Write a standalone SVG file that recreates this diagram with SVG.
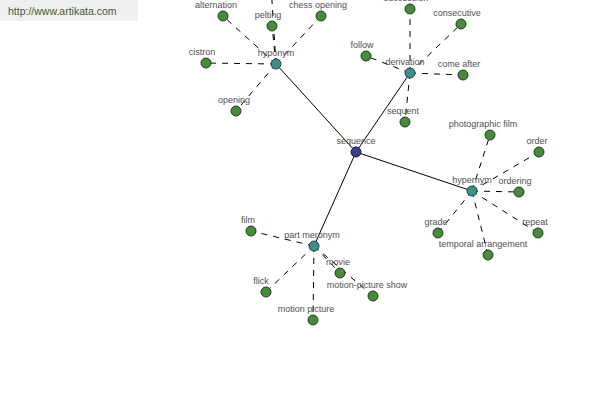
<svg xmlns="http://www.w3.org/2000/svg" width="600" height="400" viewBox="0 0 600 400">
<style>
.solid{stroke:#000;stroke-width:1;fill:none}
.dash{stroke:#000;stroke-width:1;stroke-dasharray:6,6;fill:none}
.leaf{fill:#4a8a3e;stroke:#1f3f1a;stroke-width:1}
.hub{fill:#3e8e8e;stroke:#1f4444;stroke-width:1}
.root{fill:#3c3c8e;stroke:#1a1a44;stroke-width:1}
text{font-family:"Liberation Sans",Arial,sans-serif;font-size:9px;fill:#505050;text-anchor:middle}
.hdr{font-size:10.5px;fill:#4a5a2e;text-anchor:start}
</style>
<rect width="600" height="400" fill="#fff"/>
<rect x="0" y="0" width="138" height="21" fill="#efefef"/>
<text class="hdr" x="8" y="15">http://www.artikata.com</text>
<g id="connectors">
<line class="solid" x1="356" y1="152" x2="276" y2="64"/>
<line class="solid" x1="356" y1="152" x2="410" y2="73"/>
<line class="solid" x1="356" y1="152" x2="472" y2="191"/>
<line class="solid" x1="356" y1="152" x2="314" y2="246"/>
<line class="dash" x1="276" y1="64" x2="223" y2="16"/>
<line class="dash" x1="276" y1="64" x2="272" y2="26"/>
<line class="dash" x1="276" y1="64" x2="321" y2="16"/>
<line class="dash" x1="276" y1="64" x2="206" y2="63"/>
<line class="dash" x1="276" y1="64" x2="236" y2="111"/>
<line class="dash" x1="276" y1="64" x2="270" y2="-30"/>
<line class="dash" x1="410" y1="73" x2="410" y2="9"/>
<line class="dash" x1="410" y1="73" x2="461" y2="24"/>
<line class="dash" x1="410" y1="73" x2="366" y2="56"/>
<line class="dash" x1="410" y1="73" x2="463" y2="75"/>
<line class="dash" x1="410" y1="73" x2="405" y2="122"/>
<line class="dash" x1="472" y1="191" x2="490" y2="135"/>
<line class="dash" x1="472" y1="191" x2="539" y2="152"/>
<line class="dash" x1="472" y1="191" x2="519" y2="192"/>
<line class="dash" x1="472" y1="191" x2="538" y2="233"/>
<line class="dash" x1="472" y1="191" x2="438" y2="233"/>
<line class="dash" x1="472" y1="191" x2="488" y2="255"/>
<line class="dash" x1="314" y1="246" x2="251" y2="231"/>
<line class="dash" x1="314" y1="246" x2="266" y2="292"/>
<line class="dash" x1="314" y1="246" x2="313" y2="320"/>
<line class="dash" x1="314" y1="246" x2="340" y2="273"/>
<line class="dash" x1="314" y1="246" x2="373" y2="296"/>
</g>
<g id="n-alternation"><circle class="leaf" cx="223" cy="16" r="5"/><text x="216" y="8">alternation</text></g>
<g id="n-pelting"><circle class="leaf" cx="272" cy="26" r="5"/><text x="268" y="18">pelting</text></g>
<g id="n-chess-opening"><circle class="leaf" cx="321" cy="16" r="5"/><text x="318" y="8">chess opening</text></g>
<g id="n-cistron"><circle class="leaf" cx="206" cy="63" r="5"/><text x="202" y="55">cistron</text></g>
<g id="n-opening"><circle class="leaf" cx="236" cy="111" r="5"/><text x="234" y="103">opening</text></g>
<g id="n-succession"><circle class="leaf" cx="410" cy="9" r="5"/><text x="406" y="1">succession</text></g>
<g id="n-consecutive"><circle class="leaf" cx="461" cy="24" r="5"/><text x="457" y="16">consecutive</text></g>
<g id="n-follow"><circle class="leaf" cx="366" cy="56" r="5"/><text x="362" y="48">follow</text></g>
<g id="n-come-after"><circle class="leaf" cx="463" cy="75" r="5"/><text x="459" y="67">come after</text></g>
<g id="n-sequent"><circle class="leaf" cx="405" cy="122" r="5"/><text x="403" y="114">sequent</text></g>
<g id="n-photographic-film"><circle class="leaf" cx="490" cy="135" r="5"/><text x="483" y="127">photographic film</text></g>
<g id="n-order"><circle class="leaf" cx="539" cy="152" r="5"/><text x="537" y="144">order</text></g>
<g id="n-ordering"><circle class="leaf" cx="519" cy="192" r="5"/><text x="515" y="184">ordering</text></g>
<g id="n-repeat"><circle class="leaf" cx="538" cy="233" r="5"/><text x="535" y="225">repeat</text></g>
<g id="n-grade"><circle class="leaf" cx="438" cy="233" r="5"/><text x="436" y="225">grade</text></g>
<g id="n-temporal-arrangement"><circle class="leaf" cx="488" cy="255" r="5"/><text x="483" y="247">temporal arrangement</text></g>
<g id="n-film"><circle class="leaf" cx="251" cy="231" r="5"/><text x="248" y="223">film</text></g>
<g id="n-flick"><circle class="leaf" cx="266" cy="292" r="5"/><text x="261" y="284">flick</text></g>
<g id="n-motion-picture"><circle class="leaf" cx="313" cy="320" r="5"/><text x="306" y="312">motion picture</text></g>
<g id="n-movie"><circle class="leaf" cx="340" cy="273" r="5"/><text x="338" y="265">movie</text></g>
<g id="n-motion-picture-show"><circle class="leaf" cx="373" cy="296" r="5"/><text x="367" y="288">motion-picture show</text></g>
<g id="n-hyponym"><circle class="hub" cx="276" cy="64" r="5"/><text x="276" y="56">hyponym</text></g>
<g id="n-derivation"><circle class="hub" cx="410" cy="73" r="5"/><text x="405" y="65">derivation</text></g>
<g id="n-hypernym"><circle class="hub" cx="472" cy="191" r="5"/><text x="472" y="183">hypernym</text></g>
<g id="n-part-meronym"><circle class="hub" cx="314" cy="246" r="5"/><text x="312" y="238">part meronym</text></g>
<g id="n-sequence"><circle class="root" cx="356" cy="152" r="5"/><text x="356" y="144">sequence</text></g>
</svg>
